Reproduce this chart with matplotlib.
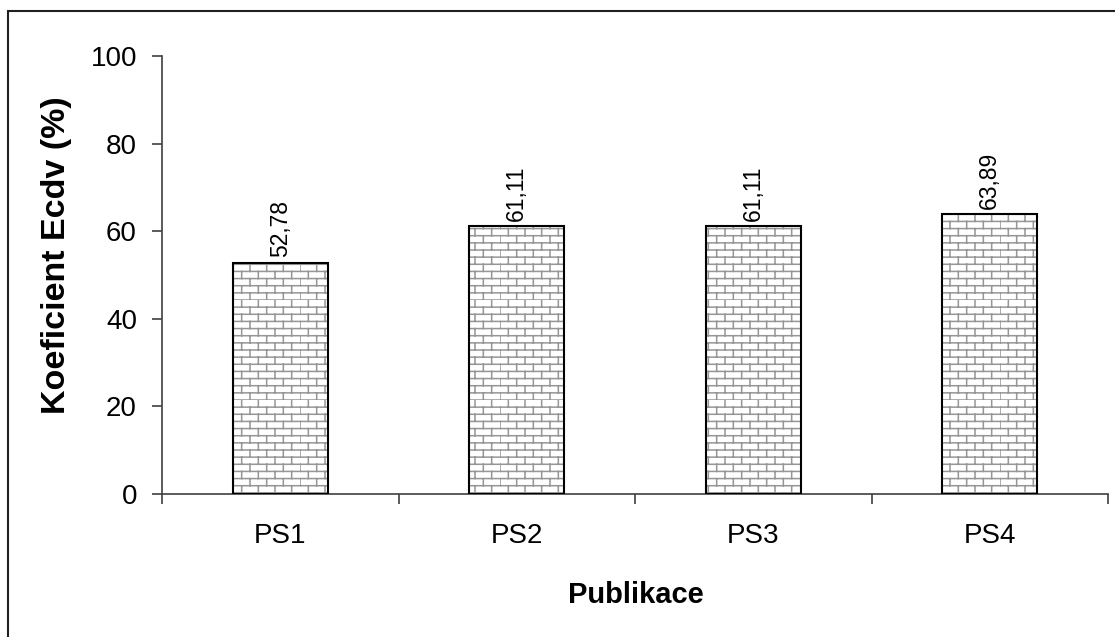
import warnings
import numpy as np
import matplotlib
matplotlib.use("Agg")
import matplotlib.pyplot as plt
from matplotlib.patches import Rectangle
from matplotlib.path import Path
from matplotlib import hatch as mhatch

categories = ["PS1", "PS2", "PS3", "PS4"]
values = [52.78, 61.11, 61.11, 63.89]
value_labels = ["52,78", "61,11", "61,11", "63,89"]
yticks = [0, 20, 40, 60, 80, 100]
ylabel = "Koeficient Ecdv (%)"
xlabel = "Publikace"


class BrickHatch(mhatch.HatchPatternBase):
    """Brick-wall fill pattern, selected with the 'b' hatch character."""
    ROWS = 14
    COLS = 6

    def __init__(self, hatch, density):
        self.on = hatch.count("b") > 0
        self.num_lines = self.ROWS * (1 + self.COLS) if self.on else 0
        self.num_vertices = self.num_lines * 2

    def set_vertices_and_codes(self, vertices, codes):
        h = 1.0 / self.ROWS
        w = 1.0 / self.COLS
        segs = []
        for r in range(self.ROWS):
            y0 = r * h
            segs.append([(0.0, y0), (1.0, y0)])
            off = 0.0 if r % 2 == 0 else w / 2
            for c in range(self.COLS):
                x = off + c * w
                segs.append([(x, y0), (x, y0 + h)])
        vertices[:] = np.array(segs).reshape(-1, 2)
        codes[0::2] = Path.MOVETO
        codes[1::2] = Path.LINETO


mhatch._hatch_types.append(BrickHatch)

plt.rcParams["font.family"] = ["Liberation Sans", "DejaVu Sans"]
plt.rcParams["hatch.linewidth"] = 1.1

W, H = 1115, 637
fig = plt.figure(figsize=(W / 100, H / 100), dpi=100)
ax = fig.add_axes([162 / W, 1 - 494 / H, (1108 - 162) / W, (494 - 56) / H])

x = np.arange(len(categories))
width = 0.4
with warnings.catch_warnings():
    warnings.simplefilter("ignore")
    ax.bar(x, values, width=width, color="white", edgecolor="#969696",
           hatch="b", linewidth=0, zorder=2)
ax.bar(x, values, width=width, fill=False, edgecolor="black",
       linewidth=1.5, zorder=3)

for xi, v, lab in zip(x, values, value_labels):
    ax.annotate(lab, (xi, v), xytext=(0, 4), textcoords="offset points",
                rotation=90, ha="center", va="bottom", fontsize=16.5)

ax.set_xlim(-0.5, len(categories) - 0.5)
ax.set_ylim(0, 100)
ax.set_yticks(yticks)
ax.set_yticklabels([str(t) for t in yticks])
ax.set_xticks(x)
ax.set_xticklabels(categories)
ax.set_xticks(np.arange(len(categories) + 1) - 0.5, minor=True)

for s in ["top", "right"]:
    ax.spines[s].set_visible(False)
for s in ["left", "bottom"]:
    ax.spines[s].set_color("#404040")
    ax.spines[s].set_linewidth(1.2)

ax.tick_params(axis="y", length=7, width=1.2, color="#404040",
               labelsize=20, pad=11)
ax.tick_params(axis="x", which="major", length=0, labelsize=20, pad=21)
ax.tick_params(axis="x", which="minor", length=7, width=1.2,
               color="#404040", direction="out")

fig.text(57 / W, 1 - 255 / H, ylabel, rotation=90, ha="center",
         va="center", fontsize=24.5, fontweight="bold")
fig.text(636 / W, 1 - 603 / H, xlabel, ha="center", va="baseline",
         fontsize=21, fontweight="bold")

fig.add_artist(Rectangle((8 / W, -0.1), 1.2, 1 - 10.5 / H + 0.1,
                         transform=fig.transFigure, fill=False,
                         edgecolor="#202020", linewidth=1.5))

fig.savefig("out.png", dpi=100)
